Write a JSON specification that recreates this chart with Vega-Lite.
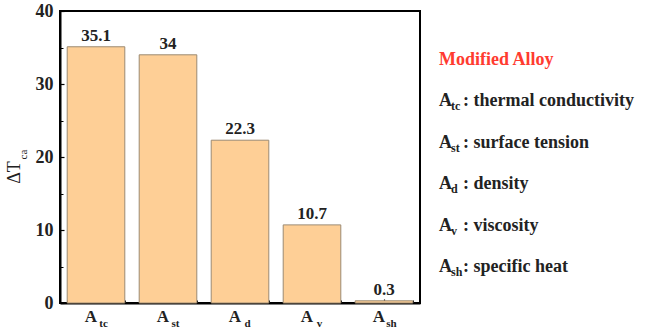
{
  "$schema": "https://vega.github.io/schema/vega-lite/v6.json",
  "background": "white",
  "padding": {"left": 4, "top": 1, "right": 0, "bottom": 0},
  "spacing": 0,
  "config": {
    "font": "Liberation Serif",
    "view": {"stroke": "black", "strokeWidth": 2},
    "axis": {"labelFont": "Liberation Serif", "titleFont": "Liberation Serif", "labelFontWeight": "bold", "titleFontWeight": "normal", "labelColor": "#222", "titleColor": "#222", "domainColor": "black", "domainWidth": 2, "tickColor": "black", "grid": false}
  },
  "hconcat": [
    {
      "width": 360,
      "height": 292,
      "data": {"values": [
        {"key": "tc", "value": 35.1, "label": "35.1"},
        {"key": "st", "value": 34, "label": "34"},
        {"key": "d", "value": 22.3, "label": "22.3"},
        {"key": "v", "value": 10.7, "label": "10.7"},
        {"key": "sh", "value": 0.3, "label": "0.3"}
      ]},
      "encoding": {
        "x": {"field": "key", "type": "nominal", "sort": null, "scale": {"paddingInner": 0.2, "paddingOuter": 0.1}}
      },
      "layer": [
        {
          "mark": {"type": "bar", "fill": "#FECF96", "stroke": "#9c8a72", "strokeWidth": 1},
          "encoding": {
            "x": {"field": "key", "type": "nominal", "sort": null, "axis": {"orient": "bottom", "title": null, "labelExpr": "'A'", "labelAngle": 0, "labelFontSize": 17, "labelOffset": -5, "labelPadding": 9, "tickSize": -4, "tickWidth": 1.2}},
            "y": {"field": "value", "type": "quantitative", "scale": {"domain": [0, 40]}, "axis": {"orient": "left", "values": [0, 10, 20, 30, 40], "title": "ΔT", "titleFontSize": 18, "titleX": -37, "titleY": 161, "labelFontSize": 18, "labelPadding": 11, "tickSize": -4, "tickWidth": 1.2}}
          }
        },
        {
          "mark": {"type": "text", "font": "Liberation Serif", "fontWeight": "bold", "fontSize": 17, "baseline": "alphabetic", "dy": -6, "color": "#222"},
          "encoding": {
            "x": {"field": "key", "type": "nominal", "sort": null, "axis": {"orient": "bottom", "title": null, "labelAngle": 0, "labelFontSize": 11, "labelOffset": 7, "labelPadding": 17, "tickBand": "extent", "tickSize": -3, "tickWidth": 1, "domain": false}},
            "y": {"field": "value", "type": "quantitative", "axis": {"orient": "left", "values": [5, 15, 25, 35], "labels": false, "domain": false, "tickSize": -3, "tickWidth": 1, "title": "ca", "titleFontSize": 11, "titleX": -32, "titleY": 143}},
            "text": {"field": "label"}
          }
        }
      ],
      "resolve": {"axis": {"x": "independent", "y": "independent"}}
    },
    {
      "width": 231,
      "height": 292,
      "view": {"stroke": null},
      "data": {"values": [
        {"row": 0, "main": "Modified Alloy", "sub": "", "desc": ""},
        {"row": 1, "main": "A", "sub": "tc", "desc": ": thermal conductivity"},
        {"row": 2, "main": "A", "sub": "st", "desc": ": surface tension"},
        {"row": 3, "main": "A", "sub": "d", "desc": ":  density"},
        {"row": 4, "main": "A", "sub": "v", "desc": ":  viscosity"},
        {"row": 5, "main": "A", "sub": "sh", "desc": ": specific heat"}
      ]},
      "encoding": {
        "x": {"datum": 0, "type": "quantitative", "scale": {"domain": [0, 1]}, "axis": null},
        "y": {"field": "row", "type": "quantitative", "scale": {"domain": [-1.18, 5.87], "reverse": true, "nice": false, "zero": false}, "axis": null}
      },
      "layer": [
        {
          "mark": {"type": "text", "align": "left", "baseline": "middle", "font": "Liberation Serif", "fontWeight": "bold", "fontSize": 18, "dx": 18},
          "encoding": {
            "text": {"field": "main"},
            "color": {"condition": {"test": "datum.row === 0", "value": "#FF3B30"}, "value": "#222"}
          }
        },
        {
          "mark": {"type": "text", "align": "left", "baseline": "middle", "font": "Liberation Serif", "fontWeight": "bold", "fontSize": 12, "dx": 30, "dy": 5, "color": "#222"},
          "encoding": {"text": {"field": "sub"}}
        },
        {
          "mark": {"type": "text", "align": "left", "baseline": "middle", "font": "Liberation Serif", "fontWeight": "bold", "fontSize": 18, "dx": 42, "color": "#222"},
          "encoding": {"text": {"field": "desc"}}
        }
      ]
    }
  ]
}
